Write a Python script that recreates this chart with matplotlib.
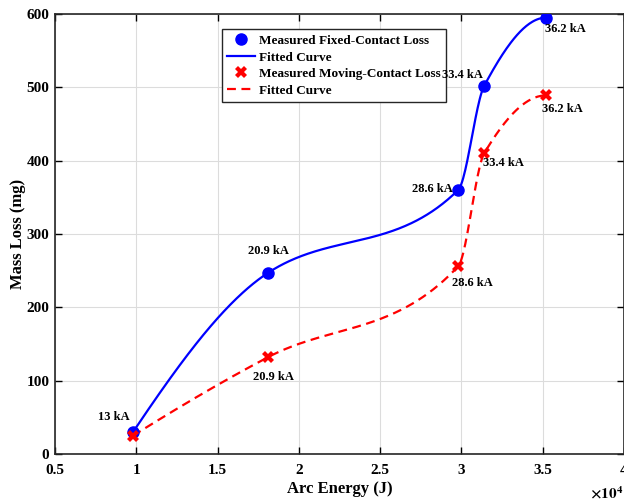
import numpy as np
import matplotlib
matplotlib.use("Agg")
import matplotlib.pyplot as plt
from matplotlib.ticker import FuncFormatter

# measured data
arc_energy = [9800, 18100, 29800, 31400, 35200]
fixed_loss = [30, 247, 360, 502, 595]
moving_loss = [25, 132, 256, 410, 489]
currents = ["13 kA", "20.9 kA", "28.6 kA", "33.4 kA", "36.2 kA"]


def pchip(x, y, xq):
    # shape-preserving piecewise cubic (Fritsch-Carlson, as in MATLAB pchip)
    x = np.asarray(x, float)
    y = np.asarray(y, float)
    h = np.diff(x)
    delta = np.diff(y) / h
    n = len(x)
    d = np.zeros(n)
    for k in range(1, n - 1):
        if delta[k - 1] * delta[k] > 0:
            w1 = 2 * h[k] + h[k - 1]
            w2 = h[k] + 2 * h[k - 1]
            d[k] = (w1 + w2) / (w1 / delta[k - 1] + w2 / delta[k])

    def end_slope(h0, h1, del0, del1):
        s = ((2 * h0 + h1) * del0 - h0 * del1) / (h0 + h1)
        if np.sign(s) != np.sign(del0):
            s = 0.0
        elif np.sign(del0) != np.sign(del1) and abs(s) > abs(3 * del0):
            s = 3 * del0
        return s

    d[0] = end_slope(h[0], h[1], delta[0], delta[1])
    d[-1] = end_slope(h[-1], h[-2], delta[-1], delta[-2])
    idx = np.clip(np.searchsorted(x, xq) - 1, 0, n - 2)
    t = (xq - x[idx]) / h[idx]
    hk = h[idx]
    h00 = 2 * t**3 - 3 * t**2 + 1
    h10 = t**3 - 2 * t**2 + t
    h01 = -2 * t**3 + 3 * t**2
    h11 = t**3 - t**2
    return h00 * y[idx] + h10 * hk * d[idx] + h01 * y[idx + 1] + h11 * hk * d[idx + 1]


plt.rcParams["font.family"] = ["Liberation Serif", "DejaVu Serif"]
plt.rcParams["font.weight"] = "bold"
plt.rcParams["mathtext.fontset"] = "stix"

fig = plt.figure(figsize=(6.24, 5.01), dpi=100)
ax = fig.add_axes([55 / 624, 47 / 501, 569 / 624, 440 / 501])

xf = np.linspace(arc_energy[0], arc_energy[-1], 400)

ax.plot(arc_energy, fixed_loss, "o", color="blue", markersize=8,
        label="Measured Fixed-Contact Loss", zorder=4)
ax.plot(xf, pchip(arc_energy, fixed_loss, xf), "-", color="blue", lw=1.6,
        label="Fitted Curve", zorder=3)
ax.plot(arc_energy, moving_loss, "X", color="red", markersize=8,
        markeredgewidth=0, label="Measured Moving-Contact Loss", zorder=4)
ax.plot(xf, pchip(arc_energy, moving_loss, xf), "--", color="red", lw=1.6,
        dashes=(4, 2.5), label="Fitted Curve", zorder=3)

# current labels, offsets in points
fixed_off = [(-14, 11), (0, 16), (-4, 1), (-1, 8), (14, -8)]
fixed_ha = ["center", "center", "right", "right", "center"]
moving_off = [(0, 0), (4, -14), (10, -12), (14, -7), (12, -10)]
for i, lab in enumerate(currents):
    ax.annotate(lab, (arc_energy[i], fixed_loss[i]), xytext=fixed_off[i],
                textcoords="offset points", ha=fixed_ha[i], va="center",
                fontsize=9, fontweight="bold", zorder=6)
    if i > 0:
        ax.annotate(lab, (arc_energy[i], moving_loss[i]), xytext=moving_off[i],
                    textcoords="offset points", ha="center", va="center",
                    fontsize=9, fontweight="bold", zorder=6)

ax.set_xlim(5000, 40000)
ax.set_ylim(0, 600)
ax.set_xticks(np.arange(5000, 40001, 5000))
ax.set_yticks(np.arange(0, 601, 100))
ax.xaxis.set_major_formatter(FuncFormatter(lambda v, p: "%g" % (v / 1e4)))
fig.text(623 / 624, 1 - 493 / 501, r"$\times10^{4}$", ha="right", va="center",
         fontsize=11, fontweight="normal")

ax.tick_params(direction="in", top=True, right=True, labelsize=11, width=1, length=5)
ax.tick_params(axis="x", pad=7)
ax.tick_params(axis="y", pad=4)
ax.grid(True, color="#dcdcdc", lw=0.8)
ax.set_axisbelow(True)
for s in ax.spines.values():
    s.set_linewidth(1.2)
    s.set_color("#262626")

ax.set_xlabel("Arc Energy (J)", fontsize=12, fontweight="bold", labelpad=3)
ax.set_ylabel("Mass Loss (mg)", fontsize=12, fontweight="bold", labelpad=0)

leg = ax.legend(loc="upper left", bbox_to_anchor=(0.293, 0.965), borderaxespad=0,
                fontsize=9.5, handlelength=2.1, handletextpad=0.3,
                labelspacing=0.33, fancybox=False, framealpha=1,
                edgecolor="#262626", borderpad=0.4)
leg.get_frame().set_linewidth(1.0)
leg.set_zorder(5)

fig.savefig("out.png", dpi=100)
